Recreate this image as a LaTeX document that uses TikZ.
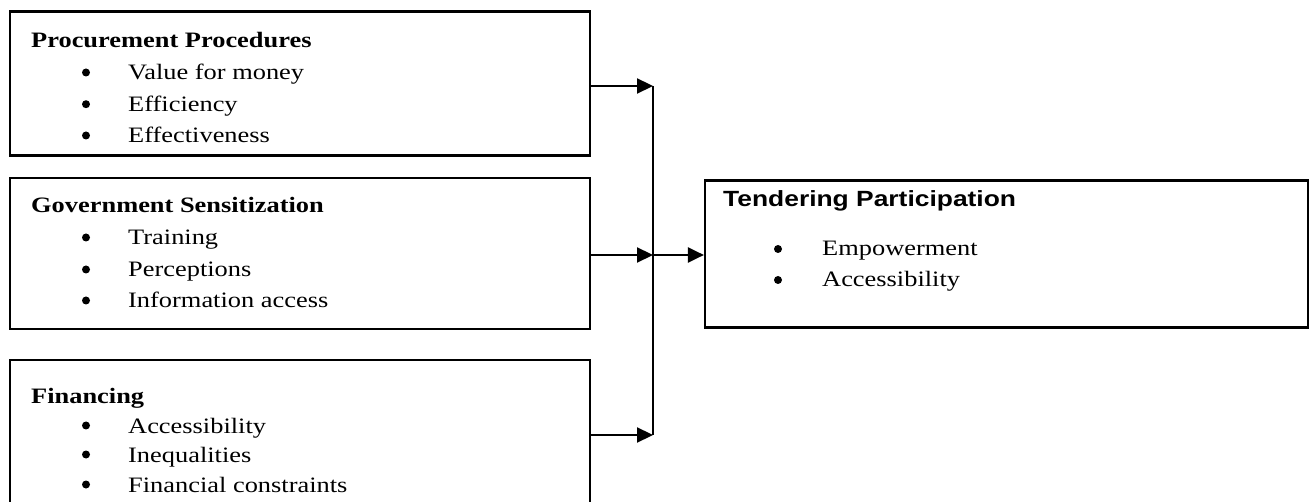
\documentclass[tikz,border=0pt]{standalone}
\usepackage{fontspec}
\usepackage{graphicx}
\setmainfont{Liberation Serif}
\newfontfamily\arialfont{Liberation Sans}
\usetikzlibrary{arrows.meta}
\newcommand{\hs}[1]{\scalebox{1.2}[1]{#1}}
\tikzset{
  box/.style={draw=black, line width=2.2pt, rectangle, inner sep=0pt},
  txt/.style={anchor=base west, inner sep=0pt, font=\fontsize{22}{26}\selectfont},
  ttl/.style={txt, font=\fontsize{22}{26}\selectfont\bfseries},
  sttl/.style={anchor=base west, inner sep=0pt, font=\fontsize{22}{26}\selectfont\arialfont\bfseries},
  dot/.style={circle, fill=black, minimum size=8pt, inner sep=0pt},
  link/.style={line width=2.2pt, -{Triangle[length=16pt,width=15pt]}},
  plain/.style={line width=2.2pt}
}
\begin{document}
\begin{tikzpicture}[x=1pt,y=-1pt]
\useasboundingbox (0,0) rectangle (1312,502);
\clip (0,0) rectangle (1312,502);
% boxes
\node[box, minimum width=580pt, minimum height=144pt] (b1) at (300,83.5) {};
\node[box, minimum width=580pt, minimum height=151pt] (b2) at (300,253.5) {};
\node[box, minimum width=580pt, minimum height=150pt] (b3) at (300,435) {};
\node[box, minimum width=603pt, minimum height=147pt] (tp) at (1006.5,254) {};
% box 1
\node[ttl] (t1) at (31,48) {\hs{Procurement Procedures}};
\node[dot] (d1a) at (86,72.5) {};
\node[txt] (i1a) at (128,80) {\hs{Value for money}};
\node[dot] (d1b) at (86,104.2) {};
\node[txt] (i1b) at (128,111.7) {\hs{Efficiency}};
\node[dot] (d1c) at (86,135.5) {};
\node[txt] (i1c) at (128,143) {\hs{Effectiveness}};
% box 2
\node[ttl] (t2) at (31,213) {\hs{Government Sensitization}};
\node[dot] (d2a) at (86,237.5) {};
\node[txt] (i2a) at (128,245) {\hs{Training}};
\node[dot] (d2b) at (86,269.5) {};
\node[txt] (i2b) at (128,277) {\hs{Perceptions}};
\node[dot] (d2c) at (86,300.5) {};
\node[txt] (i2c) at (128,308) {\hs{Information access}};
% box 3
\node[ttl] (t3) at (31,403) {\hs{Financing}};
\node[dot] (d3a) at (86,425.5) {};
\node[txt] (i3a) at (128,433) {\hs{Accessibility}};
\node[dot] (d3b) at (86,454.5) {};
\node[txt] (i3b) at (128,462) {\hs{Inequalities}};
\node[dot] (d3c) at (86,484.5) {};
\node[txt] (i3c) at (128,492) {\hs{Financial constraints}};
% tendering
\node[sttl] (t4) at (723,207) {\hs{Tendering Participation}};
\node[dot] (d4a) at (778,249) {};
\node[txt] (i4a) at (822,256) {\hs{Empowerment}};
\node[dot] (d4b) at (778,280) {};
\node[txt] (i4b) at (822,287) {\hs{Accessibility}};
% connectors
\coordinate (j1) at (653,86);
\coordinate (j2) at (653,255);
\coordinate (j3) at (653,435);
\draw[link] (b1.east |- j1) -- (j1);
\draw[link] (b2.east |- j2) -- (j2);
\draw[link] (b3.east |- j3) -- (j3);
\draw[plain] (j1) -- (j3);
\draw[link] (j2) -- (tp.west |- j2);
\end{tikzpicture}
\end{document}
